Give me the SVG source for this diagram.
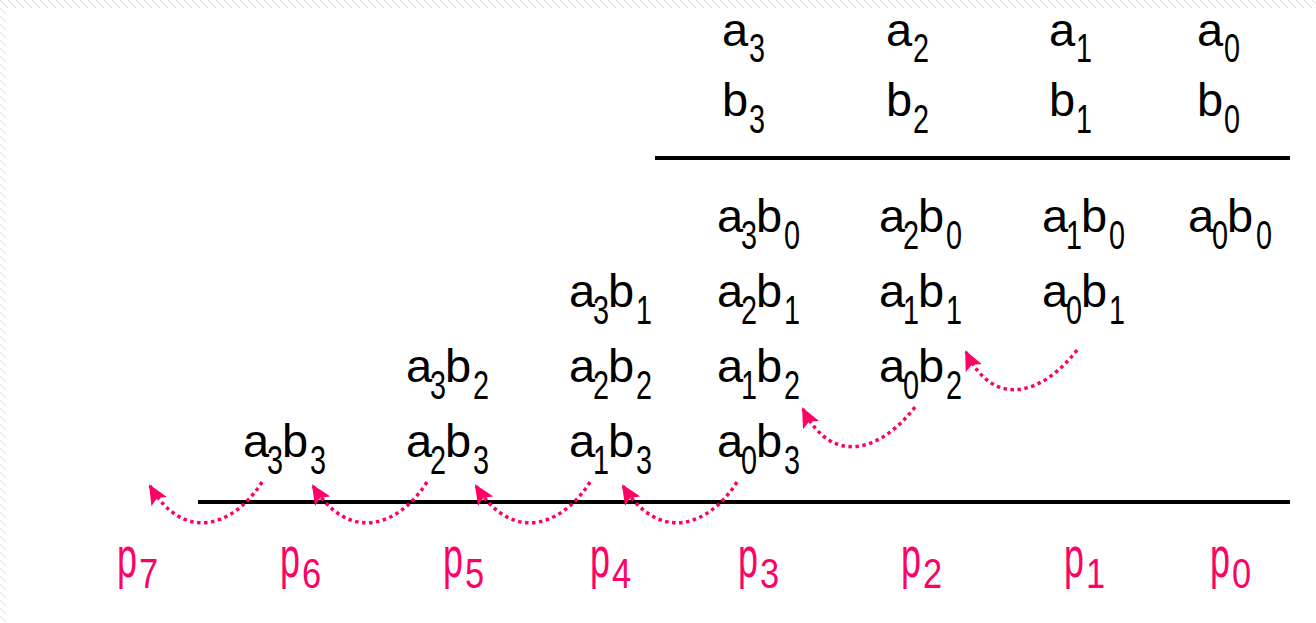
<svg xmlns="http://www.w3.org/2000/svg" width="1316" height="623" viewBox="0 0 1316 623">
<defs>
<pattern id="hatch" width="8" height="8" patternUnits="userSpaceOnUse">
<path d="M-2,-2 L10,10 M-2,6 L2,10 M6,-2 L10,2" stroke="#dcdcdc" stroke-width="1"/>
</pattern>
<marker id="ah" viewBox="0 0 20 18" refX="18" refY="9" markerWidth="20" markerHeight="18" markerUnits="userSpaceOnUse" orient="auto">
<path d="M0,0 L20,9 L0,18 L4,9 z" fill="#ff0066"/>
</marker>
<style>
.L{font-family:"Liberation Sans",Arial,sans-serif;font-size:47px;fill:#000}
.D{font-family:"Liberation Sans",Arial,sans-serif;font-size:40px;fill:#000}
.P{font-family:"Liberation Sans",Arial,sans-serif;font-size:58px;fill:#ff0066}
.PD{font-family:"Liberation Sans",Arial,sans-serif;font-size:42px;fill:#ff0066}
.rule{stroke:#000;stroke-width:4}
.arc{fill:none;stroke:#ff0066;stroke-width:3.5;stroke-dasharray:3.5 3.5;marker-end:url(#ah)}
</style>
</defs>
<rect width="1316" height="623" fill="#fff"/>
<rect x="0" y="0" width="1316" height="8" fill="url(#hatch)"/>
<rect x="0" y="0" width="6" height="623" fill="url(#hatch)"/>

<!-- operands -->
<g id="a3"><text class="L" x="722" y="46">a</text><text class="D" transform="translate(749,62) scale(0.72,1)">3</text></g>
<g id="a2"><text class="L" x="886" y="46">a</text><text class="D" transform="translate(913,62) scale(0.72,1)">2</text></g>
<g id="a1"><text class="L" x="1049" y="46">a</text><text class="D" transform="translate(1076,62) scale(0.72,1)">1</text></g>
<g id="a0"><text class="L" x="1197" y="46">a</text><text class="D" transform="translate(1224,62) scale(0.72,1)">0</text></g>
<g id="b3"><text class="L" x="722" y="116">b</text><text class="D" transform="translate(749,133) scale(0.72,1)">3</text></g>
<g id="b2"><text class="L" x="886" y="116">b</text><text class="D" transform="translate(913,133) scale(0.72,1)">2</text></g>
<g id="b1"><text class="L" x="1049" y="116">b</text><text class="D" transform="translate(1076,133) scale(0.72,1)">1</text></g>
<g id="b0"><text class="L" x="1197" y="116">b</text><text class="D" transform="translate(1224,133) scale(0.72,1)">0</text></g>

<g id="rules">
<line class="rule" x1="655" y1="158" x2="1290" y2="158"/>
<line class="rule" x1="198" y1="502" x2="1290" y2="502"/>
</g>

<!-- partial products -->
<g id="a3b0" transform="translate(717,232)"><text class="L" x="0">a</text><text class="D" transform="translate(24,17) scale(0.72,1)">3</text><text class="L" x="39">b</text><text class="D" transform="translate(67,17) scale(0.72,1)">0</text></g>
<g id="a2b0" transform="translate(879,232)"><text class="L" x="0">a</text><text class="D" transform="translate(24,17) scale(0.72,1)">2</text><text class="L" x="39">b</text><text class="D" transform="translate(67,17) scale(0.72,1)">0</text></g>
<g id="a1b0" transform="translate(1042,232)"><text class="L" x="0">a</text><text class="D" transform="translate(24,17) scale(0.72,1)">1</text><text class="L" x="39">b</text><text class="D" transform="translate(67,17) scale(0.72,1)">0</text></g>
<g id="a0b0" transform="translate(1188,232)"><text class="L" x="0">a</text><text class="D" transform="translate(24,17) scale(0.72,1)">0</text><text class="L" x="39">b</text><text class="D" transform="translate(68,17) scale(0.72,1)">0</text></g>

<g id="a3b1" transform="translate(569,307)"><text class="L" x="0">a</text><text class="D" transform="translate(24,17) scale(0.72,1)">3</text><text class="L" x="39">b</text><text class="D" transform="translate(67,17) scale(0.72,1)">1</text></g>
<g id="a2b1" transform="translate(717,307)"><text class="L" x="0">a</text><text class="D" transform="translate(24,17) scale(0.72,1)">2</text><text class="L" x="39">b</text><text class="D" transform="translate(67,17) scale(0.72,1)">1</text></g>
<g id="a1b1" transform="translate(879,307)"><text class="L" x="0">a</text><text class="D" transform="translate(24,17) scale(0.72,1)">1</text><text class="L" x="39">b</text><text class="D" transform="translate(67,17) scale(0.72,1)">1</text></g>
<g id="a0b1" transform="translate(1042,307)"><text class="L" x="0">a</text><text class="D" transform="translate(24,17) scale(0.72,1)">0</text><text class="L" x="39">b</text><text class="D" transform="translate(67,17) scale(0.72,1)">1</text></g>

<g id="a3b2" transform="translate(406,382)"><text class="L" x="0">a</text><text class="D" transform="translate(24,17) scale(0.72,1)">3</text><text class="L" x="39">b</text><text class="D" transform="translate(67,17) scale(0.72,1)">2</text></g>
<g id="a2b2" transform="translate(569,382)"><text class="L" x="0">a</text><text class="D" transform="translate(24,17) scale(0.72,1)">2</text><text class="L" x="39">b</text><text class="D" transform="translate(67,17) scale(0.72,1)">2</text></g>
<g id="a1b2" transform="translate(717,382)"><text class="L" x="0">a</text><text class="D" transform="translate(24,17) scale(0.72,1)">1</text><text class="L" x="39">b</text><text class="D" transform="translate(67,17) scale(0.72,1)">2</text></g>
<g id="a0b2" transform="translate(879,382)"><text class="L" x="0">a</text><text class="D" transform="translate(24,17) scale(0.72,1)">0</text><text class="L" x="39">b</text><text class="D" transform="translate(67,17) scale(0.72,1)">2</text></g>

<g id="a3b3" transform="translate(243,457)"><text class="L" x="0">a</text><text class="D" transform="translate(24,17) scale(0.72,1)">3</text><text class="L" x="39">b</text><text class="D" transform="translate(67,17) scale(0.72,1)">3</text></g>
<g id="a2b3" transform="translate(406,457)"><text class="L" x="0">a</text><text class="D" transform="translate(24,17) scale(0.72,1)">2</text><text class="L" x="39">b</text><text class="D" transform="translate(67,17) scale(0.72,1)">3</text></g>
<g id="a1b3" transform="translate(569,457)"><text class="L" x="0">a</text><text class="D" transform="translate(24,17) scale(0.72,1)">1</text><text class="L" x="39">b</text><text class="D" transform="translate(67,17) scale(0.72,1)">3</text></g>
<g id="a0b3" transform="translate(717,457)"><text class="L" x="0">a</text><text class="D" transform="translate(24,17) scale(0.72,1)">0</text><text class="L" x="39">b</text><text class="D" transform="translate(67,17) scale(0.72,1)">3</text></g>

<!-- result bits -->
<g id="p7" transform="translate(117,577)"><text class="P" transform="scale(0.62,1)">p</text><text class="PD" transform="translate(22,11) scale(0.82,1)">7</text></g>
<g id="p6" transform="translate(280,577)"><text class="P" transform="scale(0.62,1)">p</text><text class="PD" transform="translate(22,11) scale(0.82,1)">6</text></g>
<g id="p5" transform="translate(443,577)"><text class="P" transform="scale(0.62,1)">p</text><text class="PD" transform="translate(22,11) scale(0.82,1)">5</text></g>
<g id="p4" transform="translate(590,577)"><text class="P" transform="scale(0.62,1)">p</text><text class="PD" transform="translate(22,11) scale(0.82,1)">4</text></g>
<g id="p3" transform="translate(738,577)"><text class="P" transform="scale(0.62,1)">p</text><text class="PD" transform="translate(22,11) scale(0.82,1)">3</text></g>
<g id="p2" transform="translate(901,577)"><text class="P" transform="scale(0.62,1)">p</text><text class="PD" transform="translate(22,11) scale(0.82,1)">2</text></g>
<g id="p1" transform="translate(1064,577)"><text class="P" transform="scale(0.62,1)">p</text><text class="PD" transform="translate(22,11) scale(0.82,1)">1</text></g>
<g id="p0" transform="translate(1210,577)"><text class="P" transform="scale(0.62,1)">p</text><text class="PD" transform="translate(22,11) scale(0.82,1)">0</text></g>

<!-- carry arrows -->
<g id="connectors">
<path class="arc" d="M1077,350 C1045,392 995,412 966,352"/>
<path class="arc" d="M915,407 C883,449 833,469 803,409"/>
<path class="arc" d="M737,482 C710,525 660,545 623,486"/>
<path class="arc" d="M590,482 C563,525 513,545 476,486"/>
<path class="arc" d="M427,482 C400,525 350,545 313,486"/>
<path class="arc" d="M262,482 C235,525 185,545 150,486"/>
</g>
</svg>
